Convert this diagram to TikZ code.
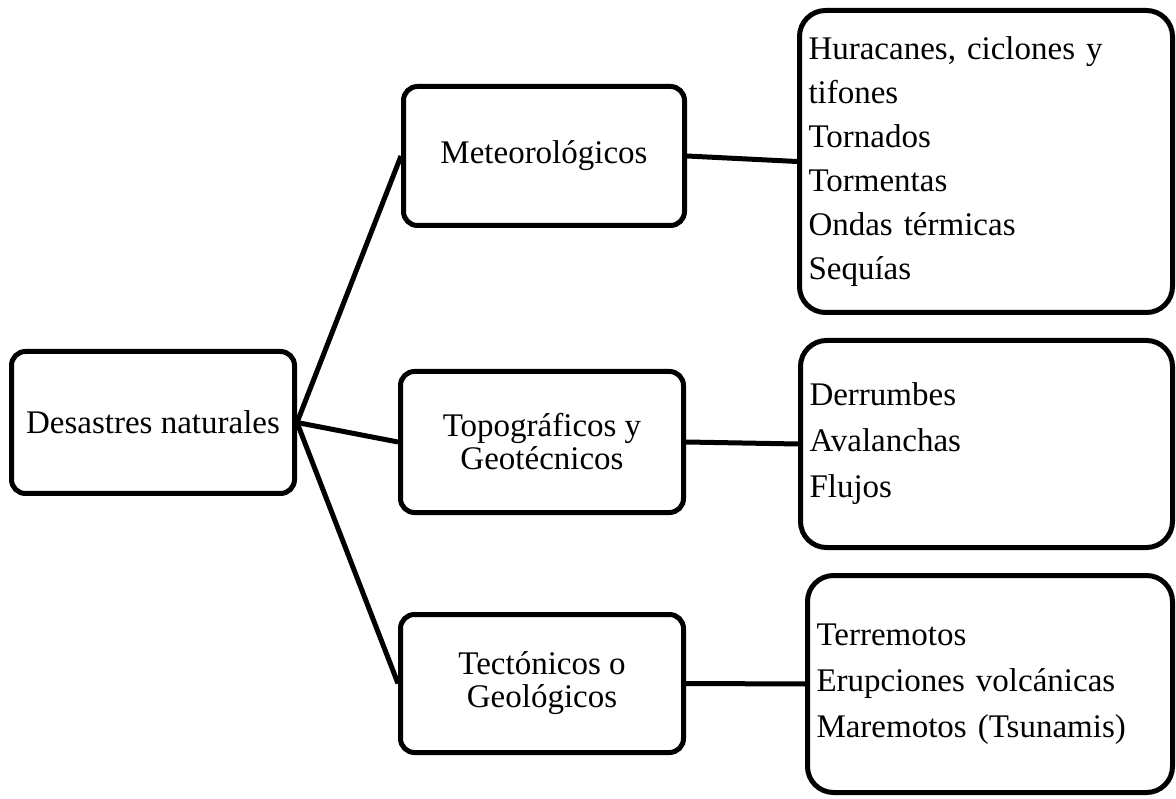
\documentclass[tikz,border=0pt]{standalone}
\usepackage{fontspec}
\setmainfont{Liberation Serif}
\usetikzlibrary{positioning}

\begin{document}
\begin{tikzpicture}[x=1pt,y=-1pt,
  caja/.style={draw,line width=5pt,rounded corners=14pt,align=center,
    minimum width=283pt,font=\fontsize{33}{33}\selectfont},
  lista/.style={draw,line width=5pt,rounded corners=26pt,align=left,
    inner xsep=9pt,font=\fontsize{33}{46}\selectfont},
  enlace/.style={line width=5pt}]
  \useasboundingbox (0,0) rectangle (1176,799);
  % raiz y tipos
  \node[caja,minimum height=142pt] (raiz) at (153,422.5) {Desastres naturales};
  \node[caja,minimum width=281pt,minimum height=139pt] (meteo) at (544,156) {Meteorológicos};
  \node[caja,minimum height=141pt] (topo) at (542,442) {Topográficos y\\Geotécnicos};
  \node[caja,minimum height=138pt] (tect) at (542,683.5) {Tectónicos o\\Geológicos};
  % ejemplos
  \node[lista,text width=355pt,minimum height=302pt,font=\fontsize{33}{44}\selectfont] (ej1) at (986,161.5)
    {Huracanes, ciclones y\\tifones\\Tornados\\Tormentas\\Ondas térmicas\\Sequías};
  \node[lista,text width=354pt,minimum height=207pt] (ej2) at (986.5,444)
    {Derrumbes\\Avalanchas\\Flujos};
  \node[lista,text width=347pt,minimum height=217pt] (ej3) at (990,684)
    {Terremotos\\Erupciones volcánicas\\Maremotos (Tsunamis)};
  \foreach \t/\e in {meteo/ej1,topo/ej2,tect/ej3} {
    \draw[enlace] (raiz.east) -- (\t.west);
    \draw[enlace] (\t.east) -- (\e.west);
  }
\end{tikzpicture}
\end{document}
